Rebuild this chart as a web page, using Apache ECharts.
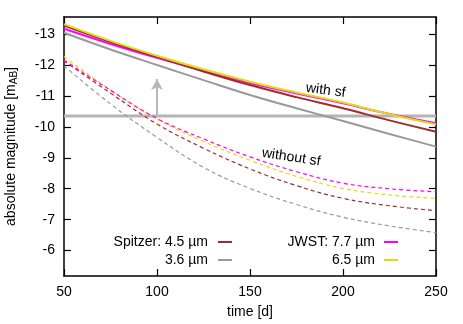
<!DOCTYPE html>
<html>
<head>
<meta charset="utf-8">
<script src="https://cdn.jsdelivr.net/npm/echarts@6/dist/echarts.min.js"></script>
<style>
  html, body { margin: 0; padding: 0; background: #fff; }
  #chart { width: 463px; height: 324px; }
</style>
</head>
<body>
<div id="chart"></div>
<script>
// time [d]
const days = [50, 75, 100, 125, 150, 175, 200, 225, 250];

// with sf (solid)
const spitzer45Sf = [-13.27, -12.74, -12.26, -11.79, -11.35, -10.96, -10.60, -10.21, -9.84];
const spitzer36Sf = [-13.04, -12.50, -12.00, -11.51, -11.03, -10.60, -10.19, -9.77, -9.36];
const jwst77Sf = [-13.17, -12.68, -12.23, -11.81, -11.42, -11.08, -10.76, -10.42, -10.12];
const jwst65Sf = [-13.32, -12.78, -12.30, -11.86, -11.46, -11.11, -10.79, -10.41, -10.08];

// without sf (dashed)
const spitzer45NoSf = [-12.13, -11.09, -10.09, -9.31, -8.64, -8.10, -7.69, -7.45, -7.29];
const spitzer36NoSf = [-11.97, -10.74, -9.66, -8.69, -8.01, -7.49, -7.08, -6.80, -6.58];
const jwst77NoSf = [-12.16, -11.18, -10.27, -9.61, -9.03, -8.55, -8.18, -8.00, -7.90];
const jwst65NoSf = [-12.27, -11.20, -10.25, -9.53, -8.92, -8.40, -8.01, -7.80, -7.69];

// horizontal limit line + arrow
const limitMag = -10.35;
const arrowDay = 100;
const arrowTipMag = -11.55;

const xTicks = [50, 100, 150, 200, 250];
const yTicks = [-13, -12, -11, -10, -9, -8, -7, -6];

const colors = {
  red: '#a02c2c',
  gray: '#999999',
  magenta: '#ff00ff',
  yellow: '#e0dc10'
};

const font = 'Liberation Sans, Arial, sans-serif';

function pairs(vals) {
  return days.map((d, i) => [d, vals[i]]);
}

function curve(vals, color, dashed) {
  return {
    type: 'line',
    data: pairs(vals),
    smooth: 0.4,
    showSymbol: false,
    symbol: 'none',
    silent: true,
    z: dashed ? 3 : 4,
    lineStyle: {
      color: color,
      width: dashed ? 1.2 : 2,
      type: dashed ? [4, 3] : 'solid'
    }
  };
}

const chart = echarts.init(document.getElementById('chart'), null, { renderer: 'canvas' });

const axisLine = { show: true, lineStyle: { color: '#000', width: 1.5 } };
const yMin = -13.55, yMax = -5.18;

const option = {
  animation: false,
  backgroundColor: '#fff',
  grid: { left: 64, right: 27, top: 17, bottom: 48, containLabel: false, outerBoundsMode: 'none' },
  xAxis: [
    {
      type: 'value',
      min: 50, max: 250, interval: 50,
      name: 'time [d]',
      nameLocation: 'middle',
      nameGap: 29,
      nameTextStyle: { fontFamily: font, fontSize: 14, color: '#000' },
      axisLine: axisLine,
      axisTick: { inside: true, length: 7, lineStyle: { color: '#000', width: 1.2 } },
      axisLabel: { fontFamily: font, fontSize: 14, color: '#000', margin: 9,
        customValues: xTicks },
      splitLine: { show: false }
    },
    {
      type: 'value',
      position: 'top',
      min: 50, max: 250, interval: 50,
      axisLine: axisLine,
      axisTick: { inside: true, length: 7, lineStyle: { color: '#000', width: 1.2 } },
      axisLabel: { show: false },
      splitLine: { show: false }
    }
  ],
  yAxis: [
    {
      type: 'value',
      min: yMin, max: yMax, inverse: true,
      name: '{n|absolute magnitude [m}{s|AB}{n|]}',
      nameLocation: 'middle',
      nameGap: 45,
      nameRotate: 90,
      nameTextStyle: {
        fontFamily: font, fontSize: 14, color: '#000',
        rich: {
          n: { fontFamily: font, fontSize: 14, color: '#000' },
          s: { fontFamily: font, fontSize: 10, color: '#000', padding: [6, 0, 0, 0] }
        }
      },
      axisLine: axisLine,
      axisTick: { inside: true, length: 7, customValues: yTicks, lineStyle: { color: '#000', width: 1.2 } },
      axisLabel: { fontFamily: font, fontSize: 14, color: '#000', margin: 9, customValues: yTicks },
      splitLine: { show: false }
    },
    {
      type: 'value',
      position: 'right',
      min: yMin, max: yMax, inverse: true,
      axisLine: axisLine,
      axisTick: { inside: true, length: 7, customValues: yTicks, lineStyle: { color: '#000', width: 1.2 } },
      axisLabel: { show: false },
      splitLine: { show: false }
    }
  ],
  series: [
    {
      type: 'line',
      data: [[50, limitMag], [250, limitMag]],
      showSymbol: false,
      symbol: 'none',
      silent: true,
      z: 2,
      lineStyle: { color: '#b4b4b4', width: 3 },
      markLine: {
        silent: true,
        symbol: ['none', 'arrow'],
        symbolSize: [9, 11],
        label: { show: false },
        lineStyle: { color: '#b8b8b8', width: 2, type: 'solid' },
        data: [[{ coord: [arrowDay, limitMag] }, { coord: [arrowDay, arrowTipMag] }]]
      }
    },
    curve(spitzer36NoSf, colors.gray, true),
    curve(spitzer45NoSf, colors.red, true),
    curve(jwst65NoSf, colors.yellow, true),
    curve(jwst77NoSf, colors.magenta, true),
    curve(spitzer36Sf, colors.gray, false),
    curve(jwst77Sf, colors.magenta, false),
    curve(spitzer45Sf, colors.red, false),
    curve(jwst65Sf, colors.yellow, false)
  ],
  graphic: [
    { type: 'text', x: 307, y: 81, rotation: -0.13, z: 10,
      style: { text: 'with sf', fontFamily: font, fontSize: 14, fill: '#000' } },
    { type: 'text', x: 263, y: 146, rotation: -0.15, z: 10,
      style: { text: 'without sf', fontFamily: font, fontSize: 14, fill: '#000' } },

    // legend
    { type: 'text', x: 208, y: 242,
      style: { text: 'Spitzer: 4.5 \u00b5m', fontFamily: font, fontSize: 14, fill: '#000', align: 'right', verticalAlign: 'middle' } },
    { type: 'line', shape: { x1: 218, y1: 242, x2: 232, y2: 242 }, style: { stroke: colors.red, lineWidth: 2 } },
    { type: 'text', x: 208, y: 260,
      style: { text: '3.6 \u00b5m', fontFamily: font, fontSize: 14, fill: '#000', align: 'right', verticalAlign: 'middle' } },
    { type: 'line', shape: { x1: 218, y1: 260, x2: 232, y2: 260 }, style: { stroke: colors.gray, lineWidth: 2 } },
    { type: 'text', x: 375, y: 242,
      style: { text: 'JWST: 7.7 \u00b5m', fontFamily: font, fontSize: 14, fill: '#000', align: 'right', verticalAlign: 'middle' } },
    { type: 'line', shape: { x1: 384, y1: 242, x2: 398, y2: 242 }, style: { stroke: colors.magenta, lineWidth: 2 } },
    { type: 'text', x: 375, y: 260,
      style: { text: '6.5 \u00b5m', fontFamily: font, fontSize: 14, fill: '#000', align: 'right', verticalAlign: 'middle' } },
    { type: 'line', shape: { x1: 384, y1: 260, x2: 398, y2: 260 }, style: { stroke: colors.yellow, lineWidth: 2 } }
  ]
};

chart.setOption(option);
</script>
</body>
</html>
